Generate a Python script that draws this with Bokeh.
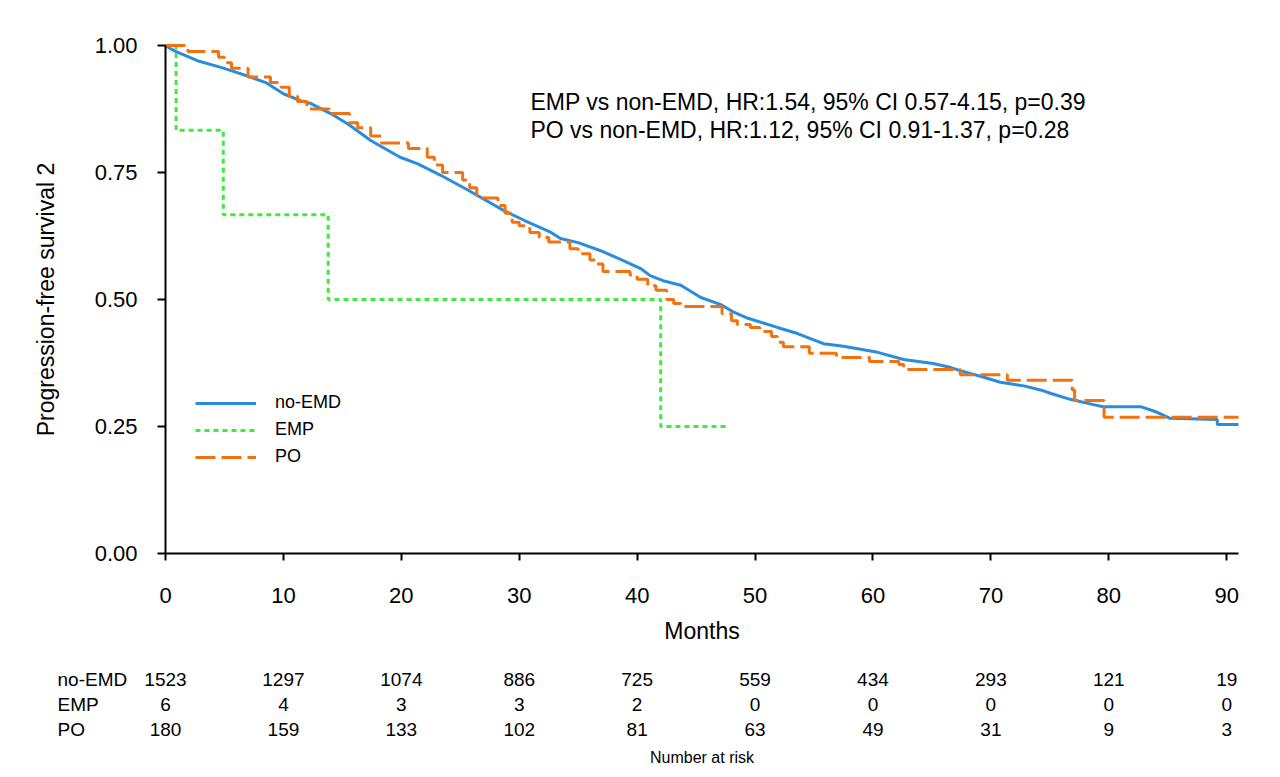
from bokeh.plotting import figure
from bokeh.models import Range1d, FixedTicker, Label, Legend, LegendItem, ColumnDataSource, NumeralTickFormatter
from bokeh.core.properties import value
from bokeh.embed import file_html
from bokeh.resources import INLINE

FONT = "Liberation Sans"

# ---------------- data ----------------
noemd_t = [0, 0.4, 1.0, 2.7, 4.7, 5.5, 7.2, 8.5, 10.0, 11.5, 12.3, 14.0, 15.5, 17.4, 19.9, 21.4,
           23.3, 25.6, 28.7, 30.5, 32.7, 33.5, 35.0, 36.9, 38.5, 40.3, 41.1, 42.2, 43.7, 45.4,
           47.1, 48.2, 49.4, 51.9, 53.6, 54.7, 55.8, 57.5, 60.4, 62.6, 65.1, 66.6, 67.4, 69.4,
           70.8, 72.8, 74.2, 75.1, 76.8, 78.7, 79.5, 82.7, 84.1, 85.2, 89.2, 89.2, 91.0]
noemd_s = [1.0, 0.994, 0.987, 0.970, 0.957, 0.951, 0.938, 0.927, 0.905, 0.891, 0.886, 0.866, 0.845,
           0.813, 0.780, 0.767, 0.745, 0.716, 0.675, 0.655, 0.632, 0.620, 0.612, 0.596, 0.580,
           0.561, 0.547, 0.537, 0.528, 0.504, 0.490, 0.475, 0.463, 0.445, 0.433, 0.423, 0.413,
           0.408, 0.396, 0.382, 0.374, 0.366, 0.360, 0.347, 0.337, 0.330, 0.322, 0.315, 0.303,
           0.293, 0.289, 0.289, 0.278, 0.266, 0.264, 0.254, 0.254]

emp_t = [0, 0.9, 4.9, 13.8, 42.0, 47.5]
emp_s = [1.0, 0.833, 0.667, 0.5, 0.25, 0.25]

po_t = [0, 1.9, 4.5, 5.0, 5.6, 7.0, 8.9, 9.8, 10.5, 11.2, 12.0, 13.9, 15.6, 16.3, 17.4, 18.3,
        20.6, 22.2, 22.8, 23.5, 25.2, 25.8, 26.4, 28.2, 28.8, 29.4, 30.0, 30.9, 31.7, 32.5,
        34.3, 35.0, 36.0, 36.6, 37.1, 39.4, 40.0, 40.9, 41.6, 42.5, 43.1, 43.7, 47.2, 48.0,
        48.5, 49.6, 50.4, 51.4, 51.9, 52.4, 54.6, 56.9, 59.7, 62.2, 62.6, 67.4, 71.4, 76.9,
        77.1, 79.6, 91.0]
po_s = [1.0, 0.988, 0.977, 0.966, 0.955, 0.938, 0.927, 0.918, 0.900, 0.890, 0.875, 0.866, 0.848,
        0.838, 0.822, 0.808, 0.797, 0.780, 0.765, 0.750, 0.735, 0.720, 0.700, 0.685, 0.670,
        0.652, 0.645, 0.632, 0.622, 0.613, 0.600, 0.590, 0.578, 0.570, 0.555, 0.548, 0.540,
        0.527, 0.518, 0.500, 0.492, 0.486, 0.472, 0.458, 0.451, 0.445, 0.437, 0.427, 0.416,
        0.407, 0.394, 0.386, 0.378, 0.372, 0.362, 0.352, 0.341, 0.322, 0.301, 0.268, 0.268]

risk_times = [0, 10, 20, 30, 40, 50, 60, 70, 80, 90]
risk_noemd = [1523, 1297, 1074, 886, 725, 559, 434, 293, 121, 19]
risk_emp = [6, 4, 3, 3, 2, 0, 0, 0, 0, 0]
risk_po = [180, 159, 133, 102, 81, 63, 49, 31, 9, 3]
group_names = ["no-EMD", "EMP", "PO"]

x_ticks = [0, 10, 20, 30, 40, 50, 60, 70, 80, 90]
y_ticks = [0, 0.25, 0.5, 0.75, 1.0]
X_END = 91.0

annot_lines = ["EMP vs non-EMD, HR:1.54, 95% CI 0.57-4.15, p=0.39",
               "PO vs non-EMD, HR:1.12, 95% CI 0.91-1.37, p=0.28"]

BLUE = "#2B8CDD"
GREEN = "#3CEB3C"
ORANGE = "#F2720F"

# ---------------- layout constants (pixels on the page) ----------------
W, H = 1272, 770
AX_L, AX_R, AX_T, AX_B = 165, 1238, 45, 553      # where the axes box sits
ppm = (AX_R - AX_L) / X_END                        # px per month
ppu = (AX_B - AX_T) / 1.0                          # px per survival unit


def ys(py):
    return (AX_B - py) / ppu


def xs(px):
    return (px - AX_L) / ppm


# the frame covers the whole canvas so the risk table below the axis is drawn too
p = figure(width=W, height=H, output_backend="svg", toolbar_location=None,
           x_range=Range1d(xs(0), xs(W)), y_range=Range1d(ys(H), ys(0)),
           min_border=0, min_border_left=0, min_border_right=0,
           min_border_top=0, min_border_bottom=0)
p.outline_line_color = None
p.grid.visible = False
p.background_fill_color = "white"
p.border_fill_color = "white"

r_blue = p.line(noemd_t, noemd_s, line_color=BLUE, line_width=3)
r_green = p.step(emp_t, emp_s, mode="after", line_color=GREEN, line_width=3, line_dash="5 4")
r_orange = p.step(po_t, po_s, mode="after", line_color=ORANGE, line_width=3, line_dash="20 6")

for ax in (p.xaxis[0], p.yaxis[0]):
    ax.fixed_location = 0
    ax.axis_line_width = 2
    ax.axis_line_color = "black"
    ax.major_tick_line_width = 2
    ax.major_tick_line_color = "black"
    ax.major_tick_in = 0
    ax.minor_tick_in = 0
    ax.minor_tick_out = 0
    ax.major_label_text_font = FONT
    ax.major_label_text_font_size = "22px"
    ax.major_label_text_color = "black"
    ax.axis_label_text_font = FONT
    ax.axis_label_text_font_size = "23px"
    ax.axis_label_text_font_style = "normal"
    ax.axis_label_text_color = "black"

p.xaxis[0].bounds = (0, X_END)
p.xaxis[0].ticker = FixedTicker(ticks=x_ticks)
p.xaxis[0].major_tick_out = 7
p.xaxis[0].major_label_standoff = 27
p.xaxis[0].axis_label = "Months"
p.xaxis[0].axis_label_standoff = 12

p.yaxis[0].bounds = (0, 1)
p.yaxis[0].ticker = FixedTicker(ticks=y_ticks)
p.yaxis[0].formatter = NumeralTickFormatter(format="0.00")
p.yaxis[0].major_tick_out = 8
p.yaxis[0].major_label_standoff = 20
p.yaxis[0].axis_label = "Progression-free survival 2"
p.yaxis[0].axis_label_standoff = 33

legend = Legend(items=[LegendItem(label=group_names[0], renderers=[r_blue]),
                       LegendItem(label=group_names[1], renderers=[r_green]),
                       LegendItem(label=group_names[2], renderers=[r_orange])],
                location=(195, H - 467), orientation="vertical")
legend.background_fill_alpha = 0
legend.border_line_alpha = 0
legend.padding = 0
legend.margin = 0
legend.spacing = 6
legend.glyph_width = 61
legend.glyph_height = 20
legend.label_height = 20
legend.label_standoff = 19
legend.label_text_font = FONT
legend.label_text_font_size = "18px"
legend.label_text_color = "black"
p.add_layout(legend)

for i, txt in enumerate(annot_lines):
    p.add_layout(Label(x=xs(530), y=ys(101 + 28 * i), text=txt,
                       text_font=FONT, text_font_size="23px", text_color="black",
                       text_baseline="middle", text_align="left"))

# ---------------- number at risk table ----------------
row_py = [679, 704, 729]
rows = [risk_noemd, risk_emp, risk_po]
for py, vals in zip(row_py, rows):
    src = ColumnDataSource(dict(x=risk_times, y=[ys(py)] * len(risk_times),
                                txt=[str(v) for v in vals]))
    p.text(x="x", y="y", text="txt", source=src, text_font=value(FONT),
           text_font_size="19px", text_align="center", text_baseline="middle",
           text_color="black")

src_lab = ColumnDataSource(dict(x=[xs(57)] * 3, y=[ys(py) for py in row_py], txt=group_names))
p.text(x="x", y="y", text="txt", source=src_lab, text_font=value(FONT),
       text_font_size="19px", text_align="left", text_baseline="middle", text_color="black")

p.text(x=[X_END / 2], y=[ys(757)], text=["Number at risk"], text_font=value(FONT),
       text_font_size="16px", text_align="center", text_baseline="middle", text_color="black")

open("out.html", "w").write(file_html(p, INLINE))
